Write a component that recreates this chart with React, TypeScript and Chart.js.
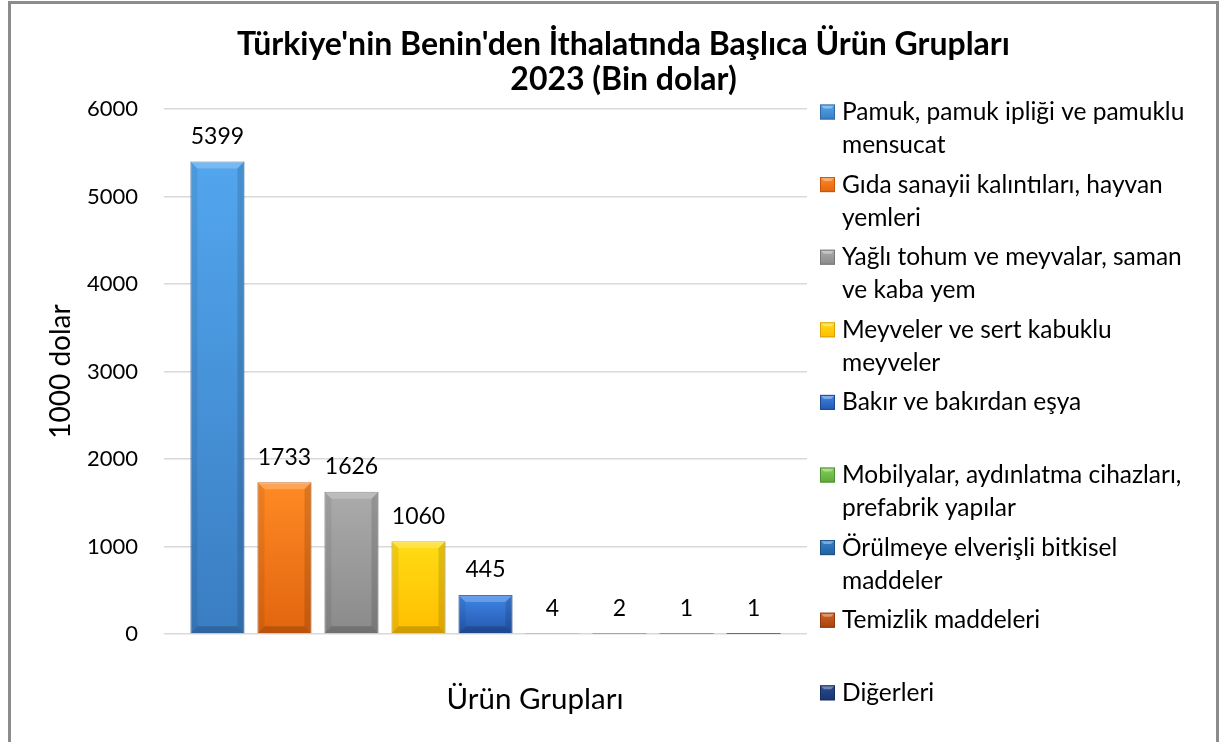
import React, { useEffect, useRef } from "react";
import { Chart, registerables } from "chart.js";

Chart.register(...registerables);

// ---------- data ----------
const titleLines = ["Türkiye'nin Benin'den İthalatında Başlıca Ürün Grupları", "2023 (Bin dolar)"];
const categories = [""];
const seriesNames = [
  "Pamuk, pamuk ipliği ve pamuklu\nmensucat",
  "Gıda sanayii kalıntıları, hayvan\nyemleri",
  "Yağlı tohum ve meyvalar, saman\nve kaba yem",
  "Meyveler ve sert kabuklu\nmeyveler",
  "Bakır ve bakırdan eşya",
  "Mobilyalar, aydınlatma cihazları,\nprefabrik yapılar",
  "Örülmeye elverişli bitkisel\nmaddeler",
  "Temizlik maddeleri",
  "Diğerleri",
];
const seriesValues = [5399, 1733, 1626, 1060, 445, 4, 2, 1, 1];
const yAxisTitle = "1000 dolar";
const xAxisTitle = "Ürün Grupları";
const yMin = 0;
const yMax = 6000;
const yStep = 1000;

// ---------- styles ----------
const colorsLight = ["#52A6EE", "#FF8A24", "#ABABAB", "#FFDC14", "#3F86E6", "#82D05A", "#3583CC", "#CF6424", "#284C92"];
const colorsDark = ["#3A7DC2", "#E2650E", "#8A8A8A", "#FFBE00", "#2456AE", "#5FA83A", "#22609E", "#A8430E", "#1A3570"];
const colorsBorder = ["#2F6AA6", "#C4570C", "#777777", "#D9A200", "#1D4892", "#4E8E30", "#1B5085", "#8E380B", "#142B5C"];
const FONT = "Lato, 'Open Sans', sans-serif";

const bevelPlugin = {
  id: "bevel",
  afterDatasetsDraw(chart: any) {
    const ctx = chart.ctx;
    ctx.save();
    chart.data.datasets.forEach((_: any, di: number) => {
      const meta = chart.getDatasetMeta(di);
      meta.data.forEach((el: any) => {
        const { x, y, base, width } = el.getProps(["x", "y", "base", "width"], true);
        const l = x - width / 2;
        const r = x + width / 2;
        const h = base - y;
        if (h < 4) return;
        const b = Math.min(7, h / 2);
        ctx.fillStyle = "rgba(255,255,255,0.22)";
        ctx.beginPath();
        ctx.moveTo(l, y); ctx.lineTo(r, y); ctx.lineTo(r - b, y + b); ctx.lineTo(l + b, y + b); ctx.closePath(); ctx.fill();
        ctx.fillStyle = "rgba(0,0,0,0.07)";
        ctx.beginPath();
        ctx.moveTo(l, y); ctx.lineTo(l + b, y + b); ctx.lineTo(l + b, base - b); ctx.lineTo(l, base); ctx.closePath(); ctx.fill();
        ctx.fillStyle = "rgba(0,0,0,0.13)";
        ctx.beginPath();
        ctx.moveTo(r, y); ctx.lineTo(r - b, y + b); ctx.lineTo(r - b, base - b); ctx.lineTo(r, base); ctx.closePath(); ctx.fill();
        ctx.fillStyle = "rgba(0,0,0,0.18)";
        ctx.beginPath();
        ctx.moveTo(l, base); ctx.lineTo(l + b, base - b); ctx.lineTo(r - b, base - b); ctx.lineTo(r, base); ctx.closePath(); ctx.fill();
      });
    });
    ctx.restore();
  },
};

const valueLabelPlugin = {
  id: "valueLabels",
  afterDatasetsDraw(chart: any) {
    const ctx = chart.ctx;
    ctx.save();
    ctx.font = `23px ${FONT}`;
    ctx.fillStyle = "#000";
    ctx.textAlign = "center";
    ctx.textBaseline = "middle";
    chart.data.datasets.forEach((ds: any, di: number) => {
      const meta = chart.getDatasetMeta(di);
      meta.data.forEach((el: any, i: number) => {
        const { x, y } = el.getProps(["x", "y"], true);
        ctx.fillText(String(ds.data[i]), x, y - 25);
      });
    });
    ctx.restore();
  },
};

const sideLegendPlugin = {
  id: "sideLegend",
  afterDraw(chart: any) {
    const ctx = chart.ctx;
    ctx.save();
    ctx.font = `24.5px ${FONT}`;
    ctx.fillStyle = "#000";
    ctx.textAlign = "left";
    ctx.textBaseline = "middle";
    const boxX = 820;
    const textX = 842;
    const firstY = 112;
    const slot = 72.6;
    const lineGap = 33;
    chart.data.datasets.forEach((ds: any, i: number) => {
      const cy = firstY + i * slot;
      const g = ctx.createLinearGradient(0, cy - 7.5, 0, cy + 7.5);
      g.addColorStop(0, colorsLight[i]);
      g.addColorStop(1, colorsDark[i]);
      ctx.fillStyle = g;
      ctx.fillRect(boxX, cy - 7.5, 15, 15);
      ctx.fillStyle = "rgba(255,255,255,0.35)";
      ctx.beginPath();
      ctx.moveTo(boxX, cy - 7.5); ctx.lineTo(boxX + 15, cy - 7.5); ctx.lineTo(boxX + 11, cy - 3.5); ctx.lineTo(boxX + 4, cy - 3.5); ctx.closePath(); ctx.fill();
      ctx.strokeStyle = colorsBorder[i];
      ctx.lineWidth = 1;
      ctx.strokeRect(boxX + 0.5, cy - 7, 14, 14);
      ctx.fillStyle = "#000";
      const lines = String(ds.label).split("\n");
      lines.forEach((ln: string, j: number) => ctx.fillText(ln, textX, cy + j * lineGap));
    });
    ctx.restore();
  },
};

const xTitlePlugin = {
  id: "xTitle",
  afterDraw(chart: any) {
    const ctx = chart.ctx;
    ctx.save();
    ctx.font = `29.5px ${FONT}`;
    ctx.fillStyle = "#000";
    ctx.textAlign = "center";
    ctx.textBaseline = "middle";
    ctx.fillText(xAxisTitle, 535, 699);
    ctx.restore();
  },
};

export default function App() {
  const canvasRef = useRef<HTMLCanvasElement | null>(null);

  useEffect(() => {
    if (!canvasRef.current) return;
    const datasets = seriesNames.map((name, i) => ({
      label: name,
      data: [seriesValues[i]],
      backgroundColor: (c: any) => {
        const chart = c.chart;
        if (!chart.chartArea || typeof c.raw !== "number") return colorsLight[i];
        const ys = chart.scales.y;
        const top = ys.getPixelForValue(c.raw);
        const base = ys.getPixelForValue(0);
        if (!isFinite(top) || !isFinite(base) || base - top < 1) return colorsLight[i];
        const g = chart.ctx.createLinearGradient(0, top, 0, base);
        g.addColorStop(0, colorsLight[i]);
        g.addColorStop(1, colorsDark[i]);
        return g;
      },
      borderColor: colorsBorder[i],
      borderWidth: (c: any) => (typeof c.raw === "number" && c.raw < 50 ? 0 : 1),
      categoryPercentage: 0.938,
      barPercentage: 0.806,
    }));

    const chart = new Chart(canvasRef.current, {
      type: "bar",
      data: { labels: categories, datasets },
      plugins: [bevelPlugin, valueLabelPlugin, sideLegendPlugin, xTitlePlugin],
      options: {
        animation: false,
        responsive: true,
        maintainAspectRatio: false,
        layout: { padding: { left: 28, right: 0, top: 0, bottom: 0 } },
        plugins: {
          legend: { display: false },
          tooltip: { enabled: false },
          title: {
            display: true,
            text: titleLines,
            color: "#000",
            font: { family: FONT, size: 32, weight: "bold", lineHeight: 1.094 },
            padding: { top: 27.5, bottom: 11.5 },
          },
        },
        scales: {
          x: {
            ticks: { display: false },
            grid: { display: false, drawTicks: false },
            border: { display: false },
            afterFit: (s: any) => { s.height = 108; },
          },
          y: {
            min: yMin,
            max: yMax,
            ticks: {
              stepSize: yStep,
              padding: 26,
              color: "#000",
              font: { family: FONT, size: 22 },
              callback: (v: any) => String(v),
            },
            grid: { color: "#d9d9d9", lineWidth: 1.5, drawTicks: false },
            border: { display: false },
            title: {
              display: true,
              text: yAxisTitle,
              color: "#000",
              font: { family: FONT, size: 28, lineHeight: 1.2 },
              padding: { top: 16.2, bottom: 0 },
            },
            afterFit: (s: any) => { s.width = 136; },
          },
          yR: {
            position: "right",
            display: true,
            ticks: { display: false },
            grid: { display: false, drawTicks: false },
            border: { display: false },
            afterFit: (s: any) => { s.width = 412; },
          },
        },
      },
    } as any);
    return () => chart.destroy();
  }, []);

  return (
    <div style={{ position: "fixed", left: 0, top: 0, width: 1219, height: 742, overflow: "hidden", background: "#fff" }}>
      <div style={{ position: "absolute", left: 0, top: 0, width: 1219, height: 742 }}>
        <canvas ref={canvasRef} />
      </div>
      <div
        style={{
          position: "absolute",
          left: 8,
          top: 1,
          width: 1211,
          height: 800,
          boxSizing: "border-box",
          borderLeft: "3px solid #8c8c8c",
          borderTop: "3px solid #8c8c8c",
          borderRight: "3px solid #8c8c8c",
          pointerEvents: "none",
        }}
      />
    </div>
  );
}
